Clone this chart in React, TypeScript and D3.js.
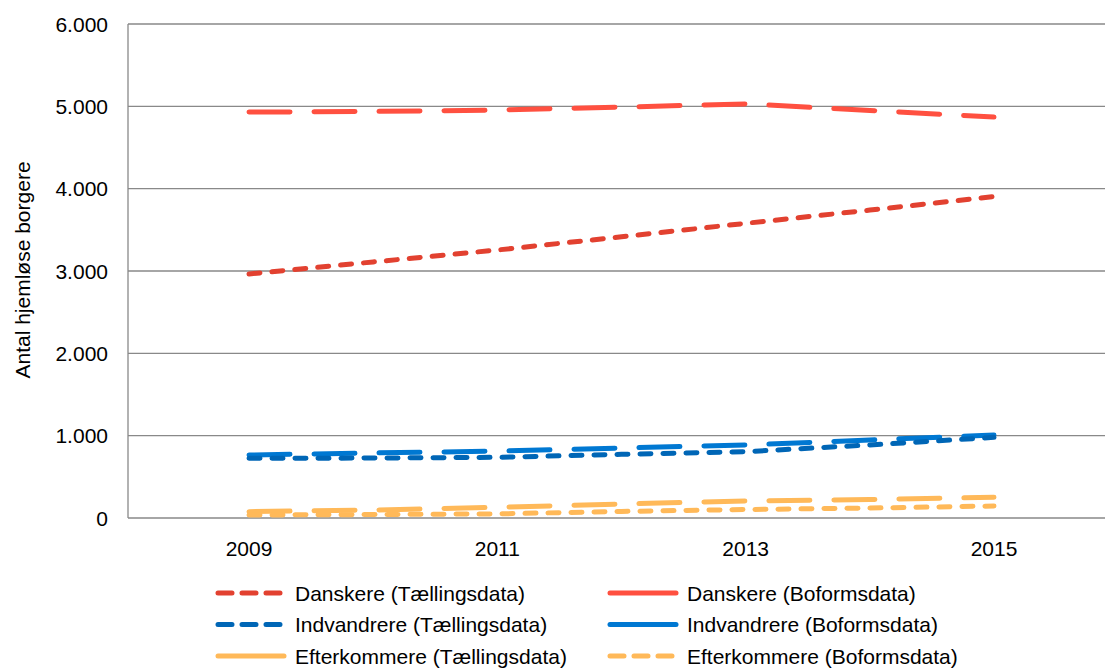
import React from "react";
import * as d3 from "d3";

const years = [2009, 2010, 2011, 2012, 2013, 2014, 2015];
const yTicks = [0, 1000, 2000, 3000, 4000, 5000, 6000];
const xTickYears = [2009, 2011, 2013, 2015];

const danskereShort = [2964, 3110, 3255, 3415, 3579, 3740, 3905];
const danskereLong = [4930, 4938, 4955, 4990, 5030, 4950, 4870];
const indvShort = [725, 728, 737, 773, 806, 887, 980];
const indvLong = [765, 790, 812, 850, 887, 947, 1008];
const eftLong = [77, 97, 130, 170, 206, 225, 251];
const eftShort = [36, 42, 50, 80, 103, 121, 146];

const W = 1105;
const H = 668;
const FONT = "'Liberation Sans', Arial, sans-serif";

const x = d3.scaleLinear().domain([2009, 2015]).range([249, 994]);
const y = d3.scaleLinear().domain([0, 6000]).range([518, 24]);

const LONG = "41,24";
const SHORT = "11,12";

type S = { name: string; values: number[]; color: string; dash: string; legendDash: string | null };

const series: S[] = [
  { name: "Danskere (Tællingsdata)", values: danskereShort, color: "#E24130", dash: SHORT, legendDash: "14,10" },
  { name: "Danskere (Boformsdata)", values: danskereLong, color: "#FF5040", dash: LONG, legendDash: null },
  { name: "Indvandrere (Tællingsdata)", values: indvShort, color: "#0066B6", dash: SHORT, legendDash: "14,10" },
  { name: "Indvandrere (Boformsdata)", values: indvLong, color: "#0078D2", dash: LONG, legendDash: null },
  { name: "Efterkommere (Tællingsdata)", values: eftLong, color: "#FFB959", dash: LONG, legendDash: null },
  { name: "Efterkommere (Boformsdata)", values: eftShort, color: "#FFB959", dash: SHORT, legendDash: "14,10" },
];

const line = d3
  .line<number>()
  .x((_, i) => x(years[i]))
  .y((d) => y(d));

export default function App() {
  const plotLeft = 128;
  const drawOrder = [1, 0, 3, 2, 4, 5];
  return (
    <svg
      width={W}
      height={H}
      style={{ position: "absolute", left: 0, top: 0, background: "#fff" }}
      fontFamily={FONT}
    >
      <rect width={W} height={H} fill="#fff" />
      {yTicks.map((t) => (
        <g key={t}>
          <line x1={plotLeft} x2={W} y1={y(t)} y2={y(t)} stroke="#898989" strokeWidth={1.3} />
          <text x={108} y={y(t) + 7.5} textAnchor="end" fontSize={21} fill="#000">
            {d3.format(",")(t).replace(/,/g, ".")}
          </text>
        </g>
      ))}
      <line x1={plotLeft} x2={plotLeft} y1={y(6000)} y2={y(0)} stroke="#898989" strokeWidth={1.3} />
      {xTickYears.map((yr) => (
        <text key={yr} x={x(yr)} y={556} textAnchor="middle" fontSize={21} fill="#000">
          {yr}
        </text>
      ))}
      <text
        transform={`translate(30,270) rotate(-90)`}
        textAnchor="middle"
        fontSize={21}
        fill="#000"
      >
        Antal hjemløse borgere
      </text>
      {drawOrder.map((i) => {
        const s = series[i];
        return (
          <path
            key={s.name}
            d={line(s.values) || ""}
            fill="none"
            stroke={s.color}
            strokeWidth={5}
            strokeDasharray={s.dash}
            strokeLinecap="round"
            strokeLinejoin="round"
          />
        );
      })}
      {series.map((s, i) => {
        const col = i % 2;
        const row = Math.floor(i / 2);
        const lx = col === 0 ? 218 : 610;
        const tx = col === 0 ? 295 : 687;
        const cy = 593 + row * 31.5;
        return (
          <g key={s.name + "-leg"}>
            <line
              x1={lx}
              x2={lx + 66}
              y1={cy}
              y2={cy}
              stroke={s.color}
              strokeWidth={5}
              strokeLinecap="round"
              strokeDasharray={s.legendDash || undefined}
            />
            <text x={tx} y={cy + 7.5} fontSize={21} fill="#000">
              {s.name}
            </text>
          </g>
        );
      })}
    </svg>
  );
}
